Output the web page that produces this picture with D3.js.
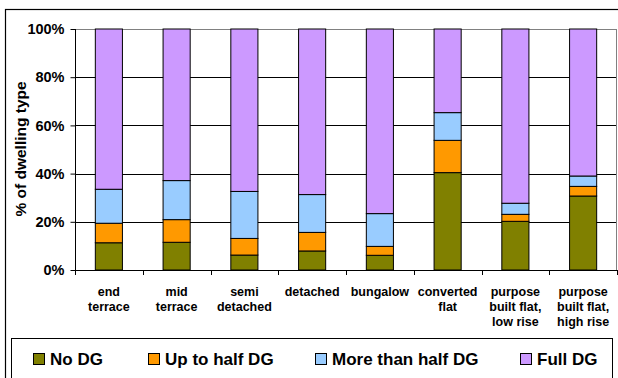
<!DOCTYPE html>
<html>
<head>
<meta charset="utf-8">
<script src="https://cdn.jsdelivr.net/npm/d3@7/dist/d3.min.js"></script>
<style>
  html, body { margin: 0; padding: 0; background: #fff; }
  svg { display: block; font-family: "Liberation Sans", Arial, sans-serif; font-weight: bold; }
</style>
</head>
<body>
<svg id="chart" width="618" height="378"></svg>
<script>
// Dwelling types and their wrapped axis labels
const categories = ["end terrace", "mid terrace", "semi detached", "detached", "bungalow",
  "converted flat", "purpose built flat, low rise", "purpose built flat, high rise"];
const categoryLines = [["end", "terrace"], ["mid", "terrace"], ["semi", "detached"], ["detached"],
  ["bungalow"], ["converted", "flat"], ["purpose", "built flat,", "low rise"], ["purpose", "built flat,", "high rise"]];

// Share of each dwelling type by double glazing extent (%)
const seriesNames = ["No DG", "Up to half DG", "More than half DG", "Full DG"];
const noDG          = [11.3, 11.5, 6.2, 7.9, 6.1, 40.4, 20.2, 30.7];
const upToHalfDG    = [8.1, 9.4, 6.9, 7.7, 3.7, 13.4, 2.9, 4.0];
const moreThanHalfDG = [14.1, 16.2, 19.5, 15.7, 13.6, 11.5, 4.6, 4.3];
const fullDG        = [66.5, 62.9, 67.4, 68.7, 76.6, 34.7, 72.3, 61.0];
const yTicks = [0, 20, 40, 60, 80, 100];

const colors = ["#808000", "#FF9900", "#99CCFF", "#CC99FF"];

const rows = categories.map((c, i) => ({
  category: c,
  "No DG": noDG[i],
  "Up to half DG": upToHalfDG[i],
  "More than half DG": moreThanHalfDG[i],
  "Full DG": fullDG[i]
}));

const svg = d3.select("#chart");
const plot = { left: 75, right: 617, top: 29, bottom: 270 };

// Outer chart frame
svg.append("rect").attr("x", 5.5).attr("y", 9.5).attr("width", 640).attr("height", 400)
  .attr("fill", "none").attr("stroke", "#000").attr("stroke-width", 1.2);

const x = d3.scaleBand().domain(categories).range([plot.left, plot.right]).padding(0);
const y = d3.scaleLinear().domain([0, 100]).range([plot.bottom, plot.top]);
const barW = x.step() / 2.5;

// Gridlines
svg.append("g").selectAll("line").data(yTicks.filter(t => t > 0)).join("line")
  .attr("x1", plot.left).attr("x2", plot.right)
  .attr("y1", d => Math.round(y(d)) + 0.5).attr("y2", d => Math.round(y(d)) + 0.5)
  .attr("stroke", d => d === 100 ? "#808080" : "#000").attr("stroke-width", 1);
// Right edge of plot area
svg.append("line").attr("x1", plot.right - 0.5).attr("x2", plot.right - 0.5)
  .attr("y1", plot.top).attr("y2", plot.bottom).attr("stroke", "#808080");

// Stacked bars
const stack = d3.stack().keys(seriesNames)(rows);
svg.append("g").selectAll("g").data(stack).join("g")
  .attr("fill", (d, i) => colors[i])
  .selectAll("rect").data(d => d).join("rect")
  .attr("x", d => x(d.data.category) + (x.step() - barW) / 2)
  .attr("width", barW)
  .attr("y", d => y(d[1]))
  .attr("height", d => y(d[0]) - y(d[1]))
  .attr("stroke", "#000").attr("stroke-width", 1);

// Y axis
const yAxis = svg.append("g").attr("transform", `translate(${plot.left + 0.5},0)`)
  .call(d3.axisLeft(y).tickValues(yTicks).tickFormat(d => d + "%").tickSize(5).tickPadding(6));
yAxis.select(".domain").attr("stroke", "#000").attr("d", `M0,${plot.top}V${plot.bottom}`);
yAxis.selectAll(".tick line").attr("stroke", "#000");
yAxis.selectAll("text").attr("font-size", 14.5).attr("font-weight", "bold")
  .attr("font-family", "Liberation Sans, Arial, sans-serif").attr("fill", "#000");

// X axis baseline with category boundary ticks
const xAxisG = svg.append("g");
xAxisG.append("line").attr("x1", plot.left).attr("x2", plot.right)
  .attr("y1", plot.bottom + 0.5).attr("y2", plot.bottom + 0.5).attr("stroke", "#000");
const bounds = categories.map(c => x(c)).concat([x(categories[categories.length - 1]) + x.step()]);
xAxisG.selectAll("line.tk").data(bounds).join("line").attr("class", "tk")
  .attr("x1", d => Math.round(d) + 0.5).attr("x2", d => Math.round(d) + 0.5)
  .attr("y1", plot.bottom).attr("y2", plot.bottom + 5).attr("stroke", "#000");

// Category labels
const lab = xAxisG.selectAll("text.cat").data(categories).join("text").attr("class", "cat")
  .attr("text-anchor", "middle").attr("font-size", 12.5).attr("fill", "#000")
  .attr("transform", d => `translate(${x(d) + x.step() / 2},296)`);
lab.selectAll("tspan").data((d, i) => categoryLines[i]).join("tspan")
  .attr("x", 0).attr("y", (d, j) => j * 15).text(d => d);

// Y axis title
svg.append("text").attr("transform", "translate(26,149) rotate(-90)")
  .attr("text-anchor", "middle").attr("font-size", 15.5).attr("fill", "#000")
  .text("% of dwelling type");

// Legend
svg.append("rect").attr("x", 11.5).attr("y", 338.5).attr("width", 601).attr("height", 60)
  .attr("fill", "#fff").attr("stroke", "#000").attr("stroke-width", 1);
const legendX = [33.5, 148.5, 315.5, 520.5];
const lg = svg.append("g").selectAll("g").data(seriesNames).join("g")
  .attr("transform", (d, i) => `translate(${legendX[i]},353.5)`);
lg.append("rect").attr("width", 11).attr("height", 11)
  .attr("fill", (d, i) => colors[i]).attr("stroke", "#000");
lg.append("text").attr("x", 16.5).attr("y", 11.5).attr("font-size", 17).attr("fill", "#000").text(d => d);
</script>
</body>
</html>
